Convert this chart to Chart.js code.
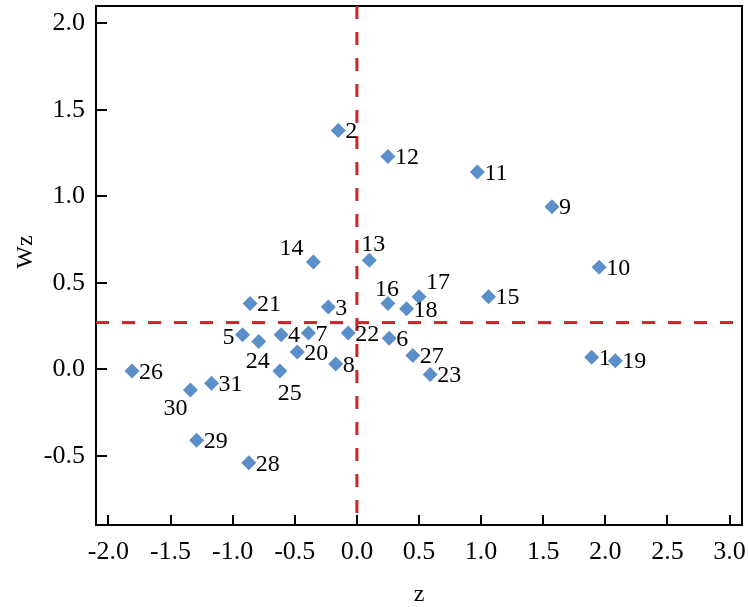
<!DOCTYPE html>
<html>
<head>
<meta charset="utf-8">
<script src="https://cdn.jsdelivr.net/npm/chart.js@4.4.1/dist/chart.umd.min.js"></script>
<style>
    body { margin: 0; background: #fff; }
    #wrap { width: 748px; height: 607px; }
</style>
</head>
<body>
<div id="wrap"><canvas id="zChart"></canvas></div>
<script>
// values
const pointNames = ['1', '2', '3', '4', '5', '6', '7', '8', '9', '10',
    '11', '12', '13', '14', '15', '16', '17', '18', '19', '20',
    '21', '22', '23', '24', '25', '26', '27', '28', '29', '30', '31'];
const zValues = [1.89, -0.15, -0.23, -0.61, -0.92, 0.26, -0.39, -0.17, 1.57, 1.95,
    0.97, 0.25, 0.10, -0.35, 1.06, 0.25, 0.50, 0.40, 2.08, -0.48,
    -0.86, -0.07, 0.59, -0.79, -0.62, -1.81, 0.45, -0.87, -1.29, -1.34, -1.17];
const wzValues = [0.07, 1.38, 0.36, 0.20, 0.20, 0.18, 0.21, 0.03, 0.94, 0.59,
    1.14, 1.23, 0.63, 0.62, 0.42, 0.38, 0.42, 0.35, 0.05, 0.10,
    0.38, 0.21, -0.03, 0.16, -0.01, -0.01, 0.08, -0.54, -0.41, -0.12, -0.08];
const xTickValues = [-2.0, -1.5, -1.0, -0.5, 0.0, 0.5, 1.0, 1.5, 2.0, 2.5, 3.0];
const yTickValues = [-0.5, 0.0, 0.5, 1.0, 1.5, 2.0];
const zCut = 0;
const wzCut = 0.27;

const X_MIN = -2.1, X_MAX = 3.1, Y_MIN = -0.9, Y_MAX = 2.1;
const SERIF = "'Liberation Serif', 'Times New Roman', serif";
const RED = '#cc2229';

// label placement: default is to the right of the marker, some are moved
const labelShift = {
    '14': [-22, -13], '5': [-14, 3], '24': [-1, 20], '25': [10, 23],
    '30': [-15, 19], '13': [4, -16], '16': [-1, -14], '17': [19, -14]
};

// scales should not push the plot area in
function noScalePadding(s) {
    s.paddingTop = 0;
    s.paddingBottom = 0;
    s.paddingLeft = 0;
    s.paddingRight = 0;
}

const framePlugin = {
    id: 'frame',
    beforeDatasetsDraw(chart) {
        const { ctx, chartArea: a, scales: { x, y } } = chart;
        ctx.save();
        ctx.strokeStyle = '#000';
        ctx.lineWidth = 2;
        ctx.beginPath();
        xTickValues.forEach(v => {
            const px = Math.round(x.getPixelForValue(v));
            ctx.moveTo(px, a.bottom);
            ctx.lineTo(px, a.bottom - 10);
        });
        yTickValues.forEach(v => {
            const py = Math.round(y.getPixelForValue(v));
            ctx.moveTo(a.left, py);
            ctx.lineTo(a.left + 11, py);
        });
        ctx.stroke();
        ctx.strokeRect(a.left, a.top, a.width, a.height);
        ctx.restore();
    },
    afterDatasetsDraw(chart) {
        const { ctx, chartArea: a, scales: { x, y } } = chart;
        ctx.save();
        ctx.fillStyle = '#000';
        ctx.font = '24px ' + SERIF;
        ctx.textBaseline = 'middle';
        pointNames.forEach((name, i) => {
            const px = x.getPixelForValue(zValues[i]);
            const py = y.getPixelForValue(wzValues[i]);
            const s = labelShift[name];
            if (s) {
                ctx.textAlign = 'center';
                ctx.fillText(name, px + s[0], py + s[1]);
            } else {
                ctx.textAlign = 'left';
                ctx.fillText(name, px + 7, py + 1.5);
            }
        });

        // axis titles
        ctx.textAlign = 'center';
        ctx.fillText('z', (a.left + a.right) / 2, 595);
        ctx.translate(26, 252);
        ctx.rotate(-Math.PI / 2);
        ctx.fillText('Wz', 0, 0);
        ctx.restore();
    }
};

const ctx = document.getElementById('zChart').getContext('2d');
new Chart(ctx, {
    type: 'scatter',
    data: {
        datasets: [
            {
                type: 'line',
                data: [{ x: X_MIN, y: wzCut }, { x: X_MAX, y: wzCut }],
                borderColor: RED,
                borderWidth: 3,
                borderDash: [13, 13],
                pointRadius: 0,
                order: 2
            },
            {
                type: 'line',
                data: [{ x: zCut, y: Y_MAX }, { x: zCut, y: Y_MIN }],
                borderColor: RED,
                borderWidth: 3,
                borderDash: [13, 13],
                pointRadius: 0,
                order: 2
            },
            {
                label: 'Wz',
                data: zValues.map((z, i) => ({ x: z, y: wzValues[i] })),
                pointStyle: 'rectRot',
                pointRadius: 7.5,
                pointBackgroundColor: '#5b8fc9',
                pointBorderWidth: 0,
                order: 1
            }
        ]
    },
    options: {
        responsive: true,
        maintainAspectRatio: false,
        animation: false,
        layout: { autoPadding: false, padding: { top: 6, right: 6, left: 0, bottom: 0 } },
        plugins: {
            legend: { display: false },
            tooltip: { enabled: false }
        },
        scales: {
            x: {
                type: 'linear',
                min: X_MIN,
                max: X_MAX,
                afterBuildTicks: s => { s.ticks = xTickValues.map(v => ({ value: v })); },
                afterFit: s => { s.height = 82; noScalePadding(s); },
                grid: { display: false, drawTicks: false },
                border: { display: false },
                ticks: {
                    autoSkip: false,
                    maxRotation: 0,
                    padding: 12,
                    color: '#000',
                    font: { family: SERIF, size: 26 },
                    callback: v => v.toFixed(1)
                }
            },
            y: {
                type: 'linear',
                min: Y_MIN,
                max: Y_MAX,
                afterBuildTicks: s => { s.ticks = yTickValues.map(v => ({ value: v })); },
                afterFit: s => { s.width = 96; noScalePadding(s); },
                grid: { display: false, drawTicks: false },
                border: { display: false },
                ticks: {
                    padding: 11,
                    color: '#000',
                    font: { family: SERIF, size: 26 },
                    callback: v => v.toFixed(1)
                }
            }
        }
    },
    plugins: [framePlugin]
});
</script>
</body>
</html>
